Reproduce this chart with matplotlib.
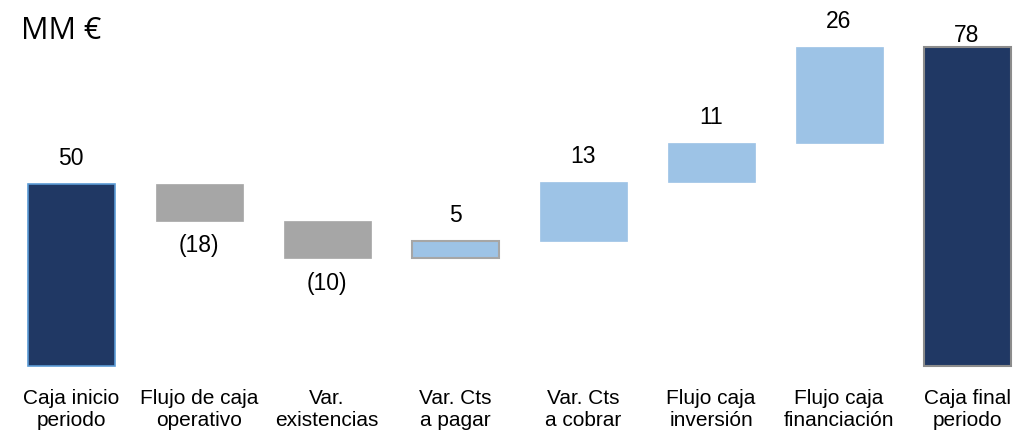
import matplotlib.pyplot as plt
import numpy as np

# categories and values
categories = ['Caja inicio\nperiodo', 'Flujo de caja\noperativo', 'Var.\nexistencias',
              'Var. Cts\na pagar', 'Var. Cts\na cobrar', 'Flujo caja\ninversión',
              'Flujo caja\nfinanciación', 'Caja final\nperiodo']
# bar steps as they are drawn (the source chart is not drawn to scale of its labels)
drawn_steps = [50, -10.0, -10.4, 4.8, 16.1, 10.9, 26.3]
value_labels = ['50', '(18)', '(10)', '5', '13', '11', '26', '78']

navy = '#203864'
grey = '#A6A6A6'
light = '#9DC3E6'

plt.rcParams['font.family'] = ['Liberation Sans', 'DejaVu Sans']

# waterfall bottoms / heights
levels = np.cumsum([0] + drawn_steps)
bottoms = []
heights = []
for i, step in enumerate(drawn_steps):
    start = levels[i]
    end = levels[i + 1]
    bottoms.append(min(start, end))
    heights.append(abs(step))
bottoms.append(0)
heights.append(levels[-1])

colors = [navy, grey, grey, light, light, light, light, navy]
edges = ['#5B9BD5', grey, grey, grey, light, light, light, '#8C8C8C']
lws = [1.2, 0.5, 0.5, 1.5, 0.5, 0.5, 0.5, 1.5]

fig = plt.figure(figsize=(10.29, 4.31), dpi=100)
ax = fig.add_axes([0, 0, 1, 1])
x = np.arange(len(categories))
bars = ax.bar(x, heights, 0.68, bottom=bottoms, color=colors, edgecolor=edges, linewidth=lws)

ax.set_xlim(-0.555, 7.484)
ax.set_ylim(-17.5, 100.8)
ax.axis('off')

for i, lab in enumerate(value_labels):
    if i < len(drawn_steps) and drawn_steps[i] < 0:
        ax.annotate(lab, (x[i], bottoms[i]), xytext=(0, -17.5), textcoords='offset points',
                    ha='center', va='center', fontsize=16.5)
    else:
        off = 8.5 if i == len(value_labels) - 1 else 19
        ax.annotate(lab, (x[i], bottoms[i] + heights[i]), xytext=(0, off),
                    textcoords='offset points', ha='center', va='center', fontsize=16.5)

for i, cat in enumerate(categories):
    ax.text(x[i], -11.7, cat, ha='center', va='center', fontsize=15, linespacing=1.2)

fig.text(21 / 1029, 1 - 39 / 431, 'MM €', fontsize=22, family=['Open Sans', 'DejaVu Sans'],
         va='baseline', ha='left')

fig.savefig('out.png', dpi=100)
